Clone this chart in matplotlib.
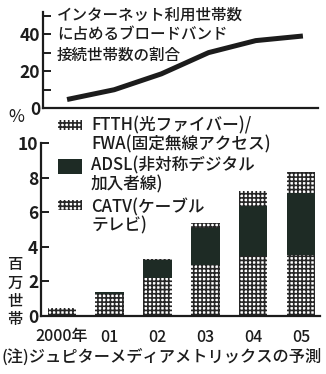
import matplotlib
matplotlib.use('Agg')
import matplotlib.pyplot as plt
from matplotlib.patches import Rectangle

plt.rcParams['font.family'] = ['Noto Sans CJK JP', 'DejaVu Sans']
plt.rcParams['hatch.linewidth'] = 1.2

W, H = 326, 374

years = ['2000年', '01', '02', '03', '04', '05']

# ブロードバンド接続世帯の割合 (%)
share = [4.6, 9.9, 18.5, 30.0, 36.5, 39.0]

# 方式別の世帯数 (百万世帯)
catv = [0.45, 1.30, 2.20, 2.97, 3.45, 3.55]
adsl = [0.02, 0.10, 1.05, 2.13, 2.90, 3.58]
ftth = [0.00, 0.01, 0.02, 0.30, 0.85, 1.17]

INK = '#1c1c1c'
DARK = '#1e2b25'
SPECKLE = dict(facecolor='white', edgecolor='#262626', hatch='++++', linewidth=0)


def px(x, y):
    """ピクセル座標 -> figure座標"""
    return x / W, 1 - y / H


def style_axes(ax):
    for s in ('top', 'right'):
        ax.spines[s].set_visible(False)
    for s in ('left', 'bottom'):
        ax.spines[s].set_linewidth(1.6)
        ax.spines[s].set_color(INK)
    ax.tick_params(axis='y', direction='in', length=6, width=1.4,
                   labelsize=12.5, pad=2, colors=INK)
    ax.tick_params(axis='x', length=0, labelsize=11.5, colors=INK, pad=9)
    for t in ax.get_yticklabels():
        t.set_fontweight('bold')
    for t in ax.get_xticklabels():
        t.set_fontweight('medium')


fig = plt.figure(figsize=(W / 100, H / 100), dpi=100)

# 上段: 割合の推移
l, b = px(43, 108)
ax1 = fig.add_axes([l, b, 318 / W - l, (108 - 12) / H])
x = list(range(len(share)))
ax1.plot(x, share, color=INK, lw=3.6, solid_capstyle='butt')
ax1.set_xlim(-0.51, 5.32)
ax1.set_ylim(0, 52)
ax1.set_yticks(range(0, 51, 10))
ax1.set_yticklabels(['0', '', '20', '', '40', ''])
ax1.set_xticks([])
style_axes(ax1)

for i, line in enumerate(['インターネット利用世帯数',
                          'に占めるブロードバンド',
                          '接続世帯数の割合']):
    fig.text(*px(57, 15 + i * 20), line, fontsize=11.2, va='center',
             ha='left', color=INK, fontweight='medium')
fig.text(*px(16, 117), '%', fontsize=12.5, ha='center', va='center',
         color=INK)

# 下段: 方式別世帯数
l, b = px(41, 316)
ax2 = fig.add_axes([l, b, 320 / W - l, (316 - 143) / H])
ax2.bar(x, catv, width=0.6, **SPECKLE)
ax2.bar(x, adsl, width=0.6, bottom=catv, color=DARK, linewidth=0)
base = [c + a for c, a in zip(catv, adsl)]
ax2.bar(x, ftth, width=0.6, bottom=base, **SPECKLE)
ax2.set_xlim(-0.44, 5.4)
ax2.set_ylim(0, 10)
ax2.set_yticks(range(0, 11, 2))
ax2.set_xticks(x)
ax2.set_xticklabels(years)
style_axes(ax2)

fig.text(*px(15, 292), '\n'.join('百万世帯'), fontsize=11, ha='center',
         va='center', linespacing=1.08, color=INK, fontweight='medium')

# 凡例 (見本の上端・高さ, 各行の位置)
legend = [
    (SPECKLE, 120, 10, [(125, 'FTTH(光ファイバー)/'), (144, 'FWA(固定無線アクセス)')]),
    (dict(facecolor=DARK, linewidth=0), 159, 15,
     [(165, 'ADSL(非対称デジタル'), (184, '加入者線)')]),
    (SPECKLE, 200, 10, [(207, 'CATV(ケーブル'), (225, 'テレビ)')]),
]
for style, top, h, lines in legend:
    x0, y0 = px(58, top + h)
    fig.patches.append(Rectangle((x0, y0), 24 / W, h / H,
                                 transform=fig.transFigure, **style))
    for y, txt in lines:
        fig.text(*px(91, y), txt, fontsize=12,
                 ha='left', va='center', color=INK, fontweight='medium')

fig.text(*px(162, 357), '(注)ジュピターメディアメトリックスの予測',
         fontsize=11.7, ha='center', va='center', color=INK,
         fontweight='medium')

fig.savefig('out.png', dpi=100)
